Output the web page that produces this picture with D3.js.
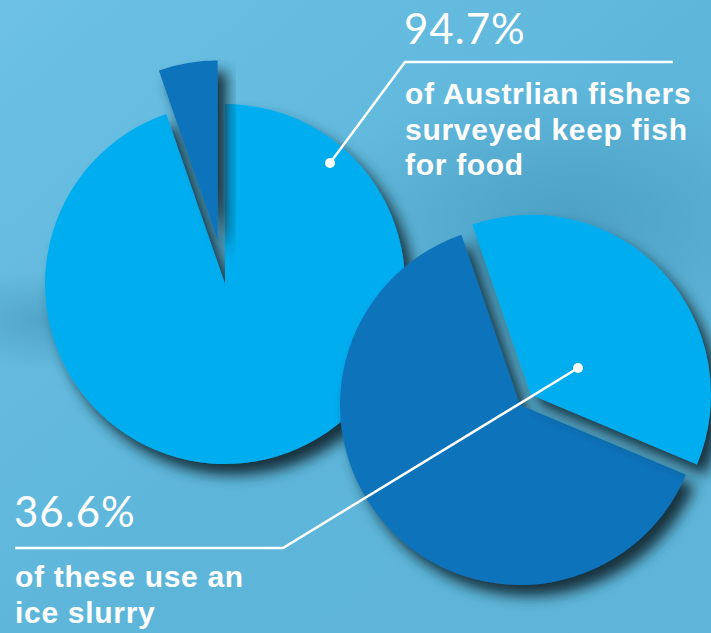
<!DOCTYPE html>
<html>
<head>
<meta charset="utf-8">
<script src="https://cdn.jsdelivr.net/npm/d3@7"></script>
<style>
  html, body { margin: 0; padding: 0; overflow: hidden; }
  svg { display: block; }
</style>
</head>
<body>
<script>
// values
const keepLabels = ['keep fish for food', 'do not keep'];
const keepValues = [94.7, 5.3];
const slurryLabels = ['use an ice slurry', 'other'];
const slurryValues = [36.6, 63.4];
const headlines = ['94.7%', '36.6%'];
const keepText = ['of Austrlian fishers', 'surveyed keep fish', 'for food'];
const slurryText = ['of these use an', 'ice slurry'];

const w = 711;
const h = 633;
const r = 180;
const light = '#00adef';
const dark = '#1073bb';

const svg = d3.select('body').append('svg')
  .attr('width', w)
  .attr('height', h);

const defs = svg.append('defs');

// background
const bg = defs.append('linearGradient').attr('id', 'bg')
  .attr('x1', 0).attr('y1', 0).attr('x2', 1).attr('y2', 1);
bg.append('stop').attr('offset', '0%').attr('stop-color', '#6cc1e4');
bg.append('stop').attr('offset', '55%').attr('stop-color', '#5db6da');
bg.append('stop').attr('offset', '100%').attr('stop-color', '#5fb5d8');

const patch = defs.append('radialGradient').attr('id', 'patch')
  .attr('cx', 0.5).attr('cy', 0.5).attr('r', 0.5);
patch.append('stop').attr('offset', '0%').attr('stop-color', '#3f90b3').attr('stop-opacity', 0.55);
patch.append('stop').attr('offset', '100%').attr('stop-color', '#3f90b3').attr('stop-opacity', 0);

const shadow = defs.append('filter').attr('id', 'shadow')
  .attr('x', '-30%').attr('y', '-30%').attr('width', '160%').attr('height', '160%');
shadow.append('feDropShadow')
  .attr('dx', 9).attr('dy', 11)
  .attr('stdDeviation', 7)
  .attr('flood-color', '#17303c')
  .attr('flood-opacity', 1);

svg.append('rect').attr('width', w).attr('height', h).attr('fill', 'url(#bg)');
svg.append('ellipse')
  .attr('cx', 570).attr('cy', 220).attr('rx', 250).attr('ry', 140)
  .attr('fill', 'url(#patch)');
svg.append('ellipse')
  .attr('cx', 50).attr('cy', 320).attr('rx', 120).attr('ry', 50)
  .attr('fill', 'url(#patch)');

const arc = d3.arc().innerRadius(0).outerRadius(r);

function drawPie(values, labels, cx, cy, startAngle, colors, explodeIndex, explodeBy) {
  const pie = d3.pie().sort(null)
    .startAngle(startAngle)
    .endAngle(startAngle + 2 * Math.PI);
  const arcs = pie(values);
  const g = svg.append('g').attr('transform', `translate(${cx},${cy})`);
  // the exploded slice goes last so its shadow falls on the other one
  const order = arcs.map((d, i) => i).sort((a, b) => (a === explodeIndex) - (b === explodeIndex));
  order.forEach((i) => {
    const d = arcs[i];
    let dx = 0;
    let dy = 0;
    if (i === explodeIndex) {
      const mid = (d.startAngle + d.endAngle) / 2;
      dx = Math.sin(mid) * explodeBy;
      dy = -Math.cos(mid) * explodeBy;
    }
    g.append('path')
      .attr('d', arc(d))
      .attr('transform', `translate(${dx},${dy})`)
      .attr('fill', colors[i])
      .attr('filter', 'url(#shadow)')
      .append('title')
      .text(`${labels[i]}: ${values[i]}%`);
  });
}

drawPie(keepValues, keepLabels, 225, 284, 0, [light, dark], 1, 44);
drawPie(slurryValues, slurryLabels, 520, 405, -19 * Math.PI / 180, [light, dark], 0, 15);

// annotations
const ann = svg.append('g');

function callout(points, dot) {
  ann.append('path')
    .attr('d', d3.line()(points))
    .attr('fill', 'none')
    .attr('stroke', '#fff')
    .attr('stroke-width', 2.5);
  ann.append('circle')
    .attr('cx', dot[0]).attr('cy', dot[1]).attr('r', 5)
    .attr('fill', '#fff');
}

callout([[330, 163], [405, 62], [673, 62]], [330, 163]);
callout([[578, 368], [283, 548], [15, 548]], [578, 368]);

function headline(text, x, y) {
  ann.append('text')
    .attr('x', x).attr('y', y)
    .attr('fill', '#fff')
    .style('font-family', 'Lato, sans-serif')
    .style('font-weight', 400)
    .style('font-size', '42px')
    .style('letter-spacing', '1px')
    .text(text);
}

function body(lines, x, y) {
  ann.append('g').selectAll('text')
    .data(lines)
    .enter()
    .append('text')
    .attr('x', x)
    .attr('y', (d, i) => y + i * 35.5)
    .attr('fill', '#fff')
    .style('font-family', '"Liberation Sans", Arial, sans-serif')
    .style('font-weight', 'bold')
    .style('font-size', '30px')
    .style('letter-spacing', '0.7px')
    .text((d) => d);
}

headline(headlines[0], 404, 44);
body(keepText, 405, 104);
headline(headlines[1], 14, 527);
body(slurryText, 15, 587);
</script>
</body>
</html>
